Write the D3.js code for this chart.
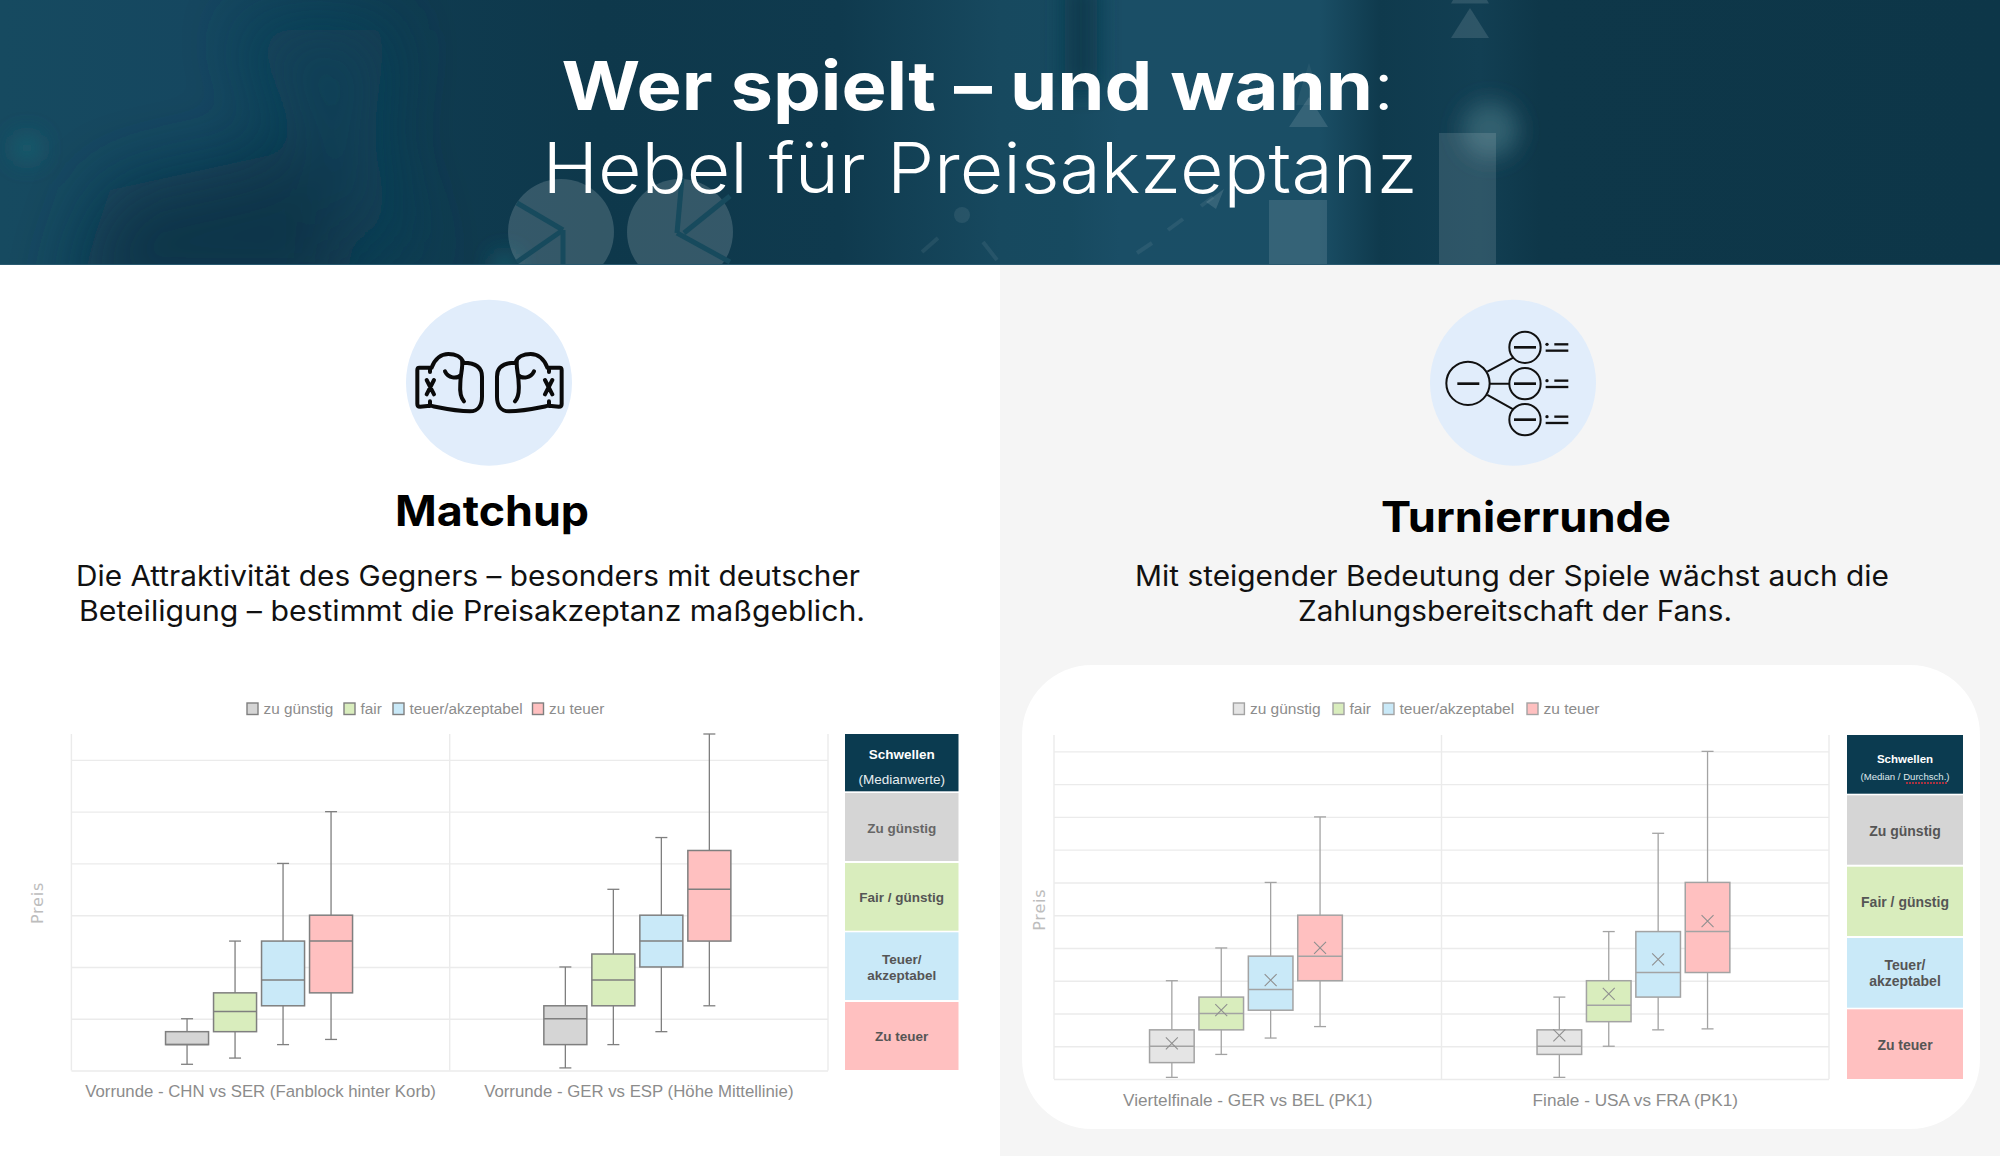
<!DOCTYPE html>
<html lang="de">
<head>
<meta charset="utf-8">
<title>Wer spielt – und wann</title>
<script src="https://cdnjs.cloudflare.com/ajax/libs/d3/7.8.5/d3.min.js"></script>
<style>
  html, body { margin: 0; padding: 0; background: #fff; }
  svg { display: block; }
</style>
</head>
<body>
<svg id="chart" width="2000" height="1156" viewBox="0 0 2000 1156"></svg>
<script>
// price categories, same order in both charts
const seriesNames = ["zu günstig", "fair", "teuer/akzeptabel", "zu teuer"];

// y axis has no labels in the source, values are in gridline steps
const matchupFacets = ["Vorrunde - CHN vs SER (Fanblock hinter Korb)", "Vorrunde - GER vs ESP (Höhe Mittellinie)"];
const matchupTicks = [0, 1, 2, 3, 4, 5, 6];
// [low, q1, median, q3, high]
const chnSerBoxes = [[0.12, 0.5, 0.5, 0.75, 1], [0.24, 0.75, 1.14, 1.5, 2.5], [0.5, 1.25, 1.75, 2.5, 4], [0.6, 1.5, 2.5, 3, 5]];
const gerEspBoxes = [[0.05, 0.5, 1, 1.25, 2], [0.5, 1.25, 1.75, 2.25, 3.5], [0.75, 2, 2.5, 3, 4.5], [1.25, 2.5, 3.5, 4.25, 6.5]];

const roundFacets = ["Viertelfinale - GER vs BEL (PK1)", "Finale - USA vs FRA (PK1)"];
const roundTicks = [0, 1, 2, 3, 4, 5, 6, 7, 8, 9, 10];
const gerBelBoxes = [[0.05, 0.5, 1, 1.5, 3], [0.75, 1.5, 2, 2.5, 4], [1.25, 2.1, 2.73, 3.75, 6], [1.6, 3, 3.75, 5, 8]];
const usaFraBoxes = [[0.05, 0.75, 1, 1.5, 2.5], [1, 1.75, 2.25, 3, 4.5], [1.5, 2.5, 3.25, 4.5, 7.5], [1.53, 3.25, 4.5, 6, 10]];
const gerBelMeans = [1.09, 2.1, 3.02, 4];
const usaFraMeans = [1.33, 2.6, 3.65, 4.82];

const seriesColors = d3.scaleOrdinal().domain(seriesNames).range(["#d5d5d5", "#d9edbd", "#c9e9f8", "#ffc0c0"]);

const svg = d3.select("#chart");
const FONT_HEAD = "Inter, 'Open Sans', sans-serif";
const FONT_CHART = "'Liberation Sans', Arial, sans-serif";

/**
 * Text squeezed to the width measured in the reference
 */
function fitText(parent, str, cx, y, width, size, weight, color) {
  return parent.append("text")
    .attr("x", cx)
    .attr("y", y)
    .attr("text-anchor", "middle")
    .attr("textLength", width)
    .attr("lengthAdjust", "spacingAndGlyphs")
    .style("font-family", FONT_HEAD)
    .style("font-size", size + "px")
    .style("font-weight", weight)
    .attr("fill", color)
    .text(str);
}

function drawHeader() {
  const defs = svg.append("defs");
  const grad = defs.append("linearGradient").attr("id", "headGrad");
  [[0, "#164a60"], [0.1, "#154760"], [0.2, "#0f3b50"], [0.3, "#0e384b"], [0.42, "#0f3a4e"], [0.5, "#17495f"],
   [0.535, "#174a60"], [0.56, "#1a4e66"], [0.66, "#1a4e65"], [0.69, "#0f3a4d"], [0.74, "#123f53"], [0.77, "#0e3749"], [1, "#0d3648"]]
    .forEach(d => grad.append("stop").attr("offset", d[0]).attr("stop-color", d[1]));
  defs.append("filter").attr("id", "blurBig").attr("x", "-50%").attr("y", "-50%").attr("width", "200%").attr("height", "200%")
    .append("feGaussianBlur").attr("stdDeviation", 34);
  defs.append("filter").attr("id", "blurSmall").attr("x", "-50%").attr("y", "-50%").attr("width", "200%").attr("height", "200%")
    .append("feGaussianBlur").attr("stdDeviation", 11);
  defs.append("clipPath").attr("id", "headClip").append("rect").attr("width", 2000).attr("height", 265);

  const g = svg.append("g").attr("clip-path", "url(#headClip)");
  g.append("rect").attr("width", 2000).attr("height", 265).attr("fill", "url(#headGrad)");

  // blurred background blobs
  const blobs = g.append("g").attr("filter", "url(#blurBig)");
  blobs.append("path").attr("d", "M110,190 L340,140 L350,310 L70,310 Z").attr("fill", "#0c3548");
  blobs.append("path").attr("d", "M240,30 L390,30 L370,140 L420,280 L340,190 Z").attr("fill", "#114056");
  const soft = g.append("g").attr("filter", "url(#blurSmall)");
  soft.append("circle").attr("cx", 27).attr("cy", 148).attr("r", 14).attr("fill", "#1a5f6e");
  soft.append("circle").attr("cx", 505).attr("cy", 265).attr("r", 12).attr("fill", "#1a5f6e");
  soft.append("circle").attr("cx", 1490).attr("cy", 130).attr("r", 28).attr("fill", "#32606f");
  soft.append("rect").attr("x", 1065).attr("y", -20).attr("width", 32).attr("height", 110).attr("fill", "#0e3a4d");

  const shape = "#fff";
  const faint = g.append("g").attr("fill", shape).attr("fill-opacity", 0.12);
  faint.append("circle").attr("cx", 561).attr("cy", 232).attr("r", 53).attr("fill-opacity", 0.16);
  faint.append("circle").attr("cx", 680).attr("cy", 232).attr("r", 53).attr("fill-opacity", 0.16);
  faint.append("rect").attr("x", 1269).attr("y", 200).attr("width", 58).attr("height", 65);
  faint.append("rect").attr("x", 1439).attr("y", 133).attr("width", 57).attr("height", 132);
  faint.append("path").attr("d", "M1451,38 L1489,38 L1470,8 Z");
  faint.append("path").attr("d", "M1453,0 L1487,0 L1489,3.5 L1451,3.5 Z");
  faint.append("path").attr("d", "M1289,127 L1328,127 L1309,97 Z");
  faint.append("path").attr("d", "M1296,105 L1322,105 L1309,63 Z").attr("fill-opacity", 0.05);
  faint.append("path").attr("d", "M1206,202 L1224,189 L1216,209 Z");
  faint.append("circle").attr("cx", 962).attr("cy", 215).attr("r", 8).attr("fill-opacity", 0.08);

  const cuts = [[563, 230, 517, 203], [563, 230, 517, 262], [563, 230, 563, 270],
                [677, 233, 682, 178], [684, 233, 730, 196], [677, 233, 730, 262]];
  g.selectAll(".cut").data(cuts).join("line").attr("class", "cut")
    .attr("x1", d => d[0]).attr("y1", d => d[1]).attr("x2", d => d[2]).attr("y2", d => d[3])
    .attr("stroke", "#174a5d").attr("stroke-width", 5);

  const dashes = [[922, 252, 938, 238], [983, 242, 997, 260], [1137, 253, 1152, 243], [1168, 230, 1183, 219], [1201, 206, 1213, 197]];
  g.selectAll(".dash").data(dashes).join("line").attr("class", "dash")
    .attr("x1", d => d[0]).attr("y1", d => d[1]).attr("x2", d => d[2]).attr("y2", d => d[3])
    .attr("stroke", shape).attr("stroke-opacity", 0.07).attr("stroke-width", 4);

  g.append("rect").attr("y", 264).attr("width", 2000).attr("height", 1).attr("fill", "#2a5a70");

  const title = fitText(svg, "", 978, 110, 833, 67, 700, "#fff");
  title.append("tspan").text("Wer spielt – und wann");
  title.append("tspan").style("font-weight", 300).text(":");
  fitText(svg, "Hebel für Preisakzeptanz", 980, 193, 875, 70, 300, "#fff");
}

function drawGloveIcon() {
  svg.append("circle").attr("cx", 489).attr("cy", 382.7).attr("r", 83).attr("fill", "#e1edfb");
  const icon = svg.append("g")
    .attr("transform", "translate(380,280) scale(0.3333)")
    .attr("fill", "none").attr("stroke", "#0a0a0a").attr("stroke-width", 12)
    .attr("stroke-linecap", "round").attr("stroke-linejoin", "round");
  const glove = "M155,263 L118,263 Q112,263 112,270 L112,372 Q112,380 120,380 L150,377 C190,385 230,394 270,394 C295,394 306,375 306,350 L306,290 C306,260 285,248 250,248 C245,230 225,222 205,222 C185,222 165,235 155,263"
    + " M195,274 C205,295 230,298 243,285 M246,240 C250,262 241,282 241,310 C239,335 241,352 252,364"
    + " M140,300 L162,343 M162,300 L140,343 M150,263 L150,276 M150,364 L150,378";
  icon.append("path").attr("d", glove);
  icon.append("path").attr("d", glove).attr("transform", "translate(657,0) scale(-1,1)");
}

function drawTreeIcon() {
  svg.append("circle").attr("cx", 1513).attr("cy", 382.7).attr("r", 83).attr("fill", "#e1edfb");
  const icon = svg.append("g")
    .attr("transform", "translate(1400,280) scale(0.3333)")
    .attr("fill", "none").attr("stroke", "#111").attr("stroke-width", 6);
  icon.append("circle").attr("cx", 204).attr("cy", 310).attr("r", 65);
  icon.append("line").attr("x1", 172).attr("x2", 238).attr("y1", 311).attr("y2", 311).attr("stroke-width", 8);
  icon.append("path").attr("d", "M262,275 L340,233 M270,311 L328,311 M262,345 L340,388");
  [202, 311, 419].forEach(cy => {
    icon.append("circle").attr("cx", 375).attr("cy", cy).attr("r", 47);
    icon.append("line").attr("x1", 342).attr("x2", 408).attr("y1", cy).attr("y2", cy).attr("stroke-width", 8);
    icon.append("circle").attr("cx", 441).attr("cy", cy - 9).attr("r", 5).attr("fill", "#111").attr("stroke", "none");
    icon.append("line").attr("x1", 463).attr("x2", 505).attr("y1", cy - 9).attr("y2", cy - 9).attr("stroke-width", 7);
    icon.append("line").attr("x1", 437).attr("x2", 505).attr("y1", cy + 10).attr("y2", cy + 10).attr("stroke-width", 7);
  });
}

/**
 * One box plot panel with two facets, legend and axis title
 */
function drawPanel(p) {
  const g = svg.append("g");

  const y = d3.scaleLinear().domain(p.yDomain).range([p.bottom, p.top]);
  const x0 = d3.scaleBand().domain(p.facets).range([p.left, p.right]);
  const x1 = d3.scaleBand().domain(seriesNames).range([0, p.step * 4]).paddingInner(p.pad).paddingOuter(p.pad / 2);

  const yAxis = d3.axisLeft(y).tickValues(p.ticks).tickSize(-(p.right - p.left)).tickFormat("");
  g.append("g")
    .attr("transform", `translate(${p.left},0)`)
    .call(yAxis)
    .call(s => s.select(".domain").remove())
    .call(s => s.selectAll(".tick line").attr("stroke", "#ebebeb").attr("stroke-width", 1.4));

  // facet separators
  g.selectAll(".sep").data([p.left, x0(p.facets[1]), p.right]).join("line").attr("class", "sep")
    .attr("x1", d => d).attr("x2", d => d).attr("y1", p.top).attr("y2", p.bottom)
    .attr("stroke", "#ebebeb").attr("stroke-width", 1.4);

  const xAxis = d3.axisBottom(x0).tickSize(0).tickPadding(p.labelPad);
  g.append("g")
    .attr("transform", `translate(0,${p.bottom})`)
    .call(xAxis)
    .call(s => s.select(".domain").remove())
    .call(s => s.selectAll("text")
      .style("font-family", FONT_CHART).style("font-size", p.labelSize + "px").attr("fill", "#8c8c8c"));

  p.facets.forEach((facet, fi) => {
    const boxes = p.boxes[fi];
    const originX = x0(facet) + x0.bandwidth() / 2 - p.step * 2 + p.shift;
    const groups = g.append("g").attr("transform", `translate(${originX},0)`)
      .selectAll("g").data(boxes).join("g")
      .attr("transform", (d, i) => `translate(${x1(seriesNames[i])},0)`);
    const w = x1.bandwidth();
    const mid = w / 2;

    groups.append("line").attr("x1", mid).attr("x2", mid)
      .attr("y1", d => y(d[0])).attr("y2", d => y(d[4]))
      .attr("stroke", p.line).attr("stroke-width", 1.3);
    groups.selectAll(".cap").data(d => [d[0], d[4]]).join("line").attr("class", "cap")
      .attr("x1", mid - 6).attr("x2", mid + 6)
      .attr("y1", d => y(d)).attr("y2", d => y(d))
      .attr("stroke", p.line).attr("stroke-width", 1.3);
    groups.append("rect").attr("x", 0).attr("width", w)
      .attr("y", d => y(d[3])).attr("height", d => y(d[1]) - y(d[3]))
      .attr("fill", (d, i) => i === 0 ? p.firstFill : seriesColors(seriesNames[i]))
      .attr("stroke", p.line).attr("stroke-width", 1.5);
    groups.append("line").attr("x1", 0).attr("x2", w)
      .attr("y1", d => y(d[2])).attr("y2", d => y(d[2]))
      .attr("stroke", p.line).attr("stroke-width", 1.5);

    if (p.means) {
      const symbol = d3.symbol().type(d3.symbolX).size(95);
      groups.append("path").attr("d", symbol)
        .attr("transform", (d, i) => `translate(${mid},${y(p.means[fi][i])})`)
        .attr("fill", "none").attr("stroke", "#8f8f8f").attr("stroke-width", 1.1);
    }
  });

  // legend
  const legend = g.selectAll(".legendItem").data(seriesNames).join("g").attr("class", "legendItem")
    .attr("transform", (d, i) => `translate(${p.legendX[i]},709)`);
  legend.append("rect").attr("y", -6).attr("width", 11).attr("height", 11.5)
    .attr("fill", (d, i) => i === 0 ? p.firstFill : seriesColors(d))
    .attr("stroke", p.line).attr("stroke-width", 1.4);
  legend.append("text").attr("x", 16.5).attr("dy", "0.35em")
    .style("font-family", FONT_CHART).style("font-size", p.legendSize + "px").attr("fill", "#8c8c8c")
    .text(d => d);

  g.append("text")
    .attr("transform", `translate(${p.titleX},${p.titleY}) rotate(-90)`)
    .attr("text-anchor", "middle").attr("dy", "0.35em")
    .style("font-family", "'DejaVu Sans', sans-serif").style("font-size", "16px").style("letter-spacing", "0.8px").attr("fill", "#bdbdbd")
    .text("Preis");
}

/**
 * Threshold table next to the box plots
 */
function drawTable(t) {
  const g = svg.append("g");
  const cx = (t.x0 + t.x1) / 2;
  t.rows.forEach((r, i) => {
    g.append("rect").attr("x", t.x0).attr("width", t.x1 - t.x0)
      .attr("y", r[0]).attr("height", r[1] - r[0])
      .attr("fill", i === 0 ? "#0b3b50" : seriesColors(seriesNames[i - 1]));
  });
  t.labels.forEach(l => {
    g.append("text").attr("x", cx).attr("y", l[1]).attr("dy", "0.35em").attr("text-anchor", "middle")
      .style("font-family", FONT_CHART).style("font-size", l[2] + "px").style("font-weight", l[3])
      .attr("fill", l[4]).text(l[0]);
  });
}

svg.append("rect").attr("width", 2000).attr("height", 1156).attr("fill", "#fff");
svg.append("rect").attr("x", 1000).attr("y", 265).attr("width", 1000).attr("height", 891).attr("fill", "#f5f5f5");
svg.append("rect").attr("x", 1022).attr("y", 665).attr("width", 958).attr("height", 464).attr("rx", 70).attr("fill", "#fff");

drawHeader();
drawGloveIcon();
drawTreeIcon();

fitText(svg, "Matchup", 492, 526, 194, 42, 700, "#000");
fitText(svg, "Turnierrunde", 1526, 532, 290, 42, 700, "#000");
fitText(svg, "Die Attraktivität des Gegners – besonders mit deutscher", 468, 586, 784, 28, 400, "#111");
fitText(svg, "Beteiligung – bestimmt die Preisakzeptanz maßgeblich.", 472, 621, 786, 28, 400, "#111");
fitText(svg, "Mit steigender Bedeutung der Spiele wächst auch die", 1512, 586, 754, 28, 400, "#111");
fitText(svg, "Zahlungsbereitschaft der Fans.", 1515, 621, 434, 28, 400, "#111");

drawPanel({
  facets: matchupFacets, boxes: [chnSerBoxes, gerEspBoxes], ticks: matchupTicks, yDomain: [0, 6.5],
  left: 71.4, right: 828, top: 734, bottom: 1070.5, step: 48, pad: 0.104, shift: -1.5,
  line: "#7f7f7f", firstFill: "#d5d5d5", labelSize: 16.8, labelPad: 15, legendSize: 15.3,
  legendX: [247, 344, 393, 532.5], titleX: 37, titleY: 903
});
drawTable({
  x0: 845, x1: 958.5,
  rows: [[734, 791.3], [793, 861], [863, 930.7], [932.3, 1000], [1002, 1070]],
  labels: [
    ["Schwellen", 754, 13.5, 700, "#fff"], ["(Medianwerte)", 779, 13.5, 400, "#e8eef1"],
    ["Zu günstig", 828, 13.5, 700, "#666"], ["Fair / günstig", 897.7, 13.5, 700, "#555"],
    ["Teuer/", 959, 13.5, 700, "#555"], ["akzeptabel", 975, 13.5, 700, "#555"], ["Zu teuer", 1036.7, 13.5, 700, "#555"]
  ]
});

drawPanel({
  facets: roundFacets, boxes: [gerBelBoxes, usaFraBoxes], means: [gerBelMeans, usaFraMeans], ticks: roundTicks, yDomain: [0, 10.5],
  left: 1054, right: 1829, top: 735, bottom: 1079, step: 49.4, pad: 0.097, shift: -1.8,
  line: "#a3a3a3", firstFill: "#e5e5e5", labelSize: 17.2, labelPad: 15, legendSize: 15.5,
  legendX: [1233.4, 1333, 1383, 1527], titleX: 1039.5, titleY: 909.7
});
drawTable({
  x0: 1847, x1: 1963,
  rows: [[735, 793.7], [795.3, 864.7], [866.7, 936], [938, 1007.7], [1009.3, 1079]],
  labels: [
    ["Schwellen", 759, 11.5, 700, "#fff"], ["(Median / Durchsch.)", 777, 9.6, 400, "#dfe8ec"],
    ["Zu günstig", 831, 14, 700, "#555"], ["Fair / günstig", 902, 14, 700, "#555"],
    ["Teuer/", 965, 14, 700, "#555"], ["akzeptabel", 981, 14, 700, "#555"], ["Zu teuer", 1045, 14, 700, "#555"]
  ]
});

// the spell check squiggle is part of the source screenshot
svg.append("line").attr("x1", 1906).attr("x2", 1947).attr("y1", 783).attr("y2", 783)
  .attr("stroke", "#e0303c").attr("stroke-width", 1.6).attr("stroke-dasharray", "2 1");
</script>
</body>
</html>
